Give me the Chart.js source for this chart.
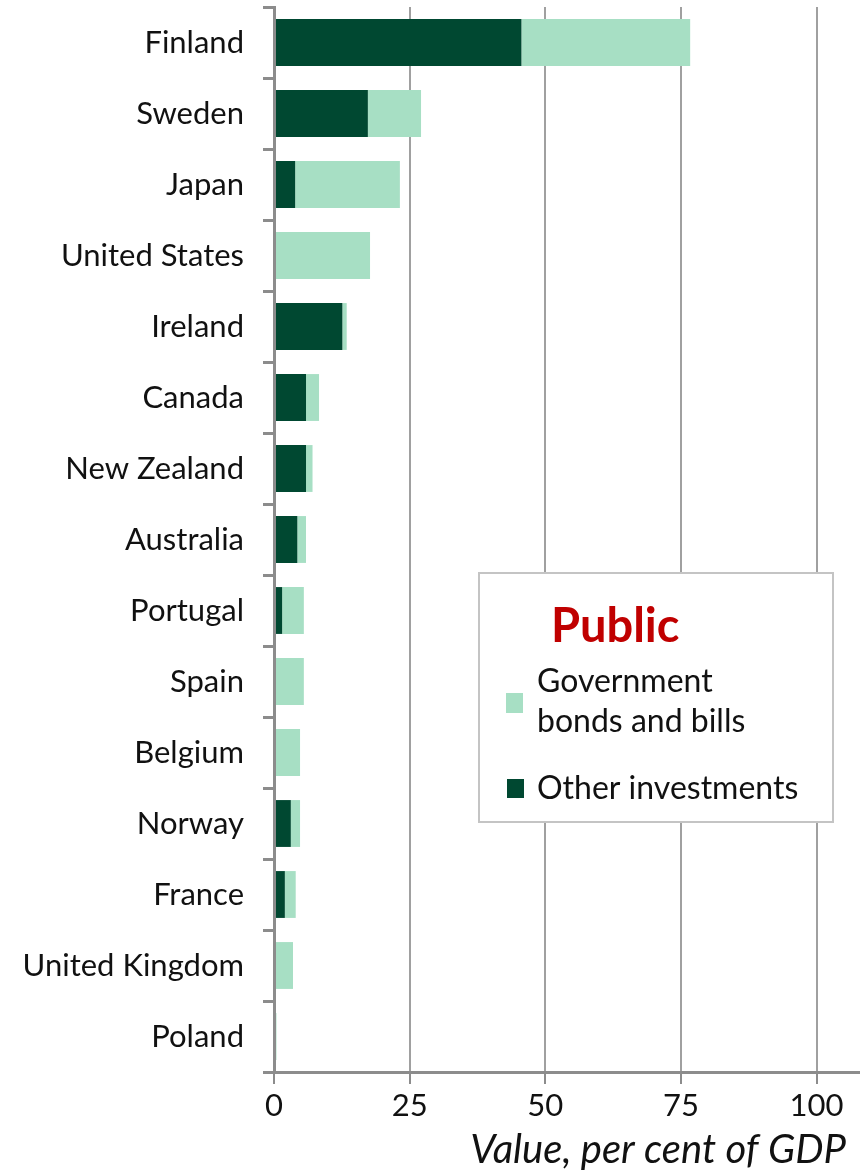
<!DOCTYPE html>
<html>
<head>
<meta charset="utf-8">
<script src="https://cdn.jsdelivr.net/npm/chart.js@4"></script>
<style>
  html, body { margin: 0; padding: 0; background: #fff; }
  #wrap { width: 860px; height: 1173px; position: relative; }
</style>
</head>
<body>
<div id="wrap"><canvas id="chartCanvas"></canvas></div>
<script>
const countries = ['Finland', 'Sweden', 'Japan', 'United States', 'Ireland', 'Canada', 'New Zealand',
  'Australia', 'Portugal', 'Spain', 'Belgium', 'Norway', 'France', 'United Kingdom', 'Poland'];
const otherInvestments = [45.6, 17.3, 3.9, 0, 12.6, 5.9, 5.9, 4.3, 1.5, 0, 0, 3.1, 2.0, 0, 0];
const govBonds = [31.1, 9.8, 19.3, 17.7, 0.8, 2.4, 1.2, 1.6, 4.0, 5.5, 4.8, 1.7, 2.0, 3.5, 0.45];
const xTicks = [0, 25, 50, 75, 100];

const darkGreen = '#004831';
const lightGreen = '#a7dfc4';
const font = 'Lato, "Open Sans", sans-serif';

// legend box + axis title drawn by hand
const extras = {
  id: 'extras',
  afterDraw(c) {
    const ctx = c.ctx;
    ctx.save();
    ctx.fillStyle = '#fff';
    ctx.fillRect(479, 573, 354, 249);
    ctx.strokeStyle = '#c4c4c4';
    ctx.lineWidth = 2;
    ctx.strokeRect(479, 573, 354, 249);

    ctx.fillStyle = '#c00000';
    ctx.font = 'bold 47px ' + font;
    ctx.textBaseline = 'alphabetic';
    ctx.fillText('Public', 551, 642);

    ctx.fillStyle = lightGreen;
    ctx.fillRect(506, 693, 17, 20);
    ctx.fillStyle = darkGreen;
    ctx.fillRect(507, 779, 17, 19);

    ctx.fillStyle = '#111';
    ctx.textBaseline = 'middle';
    ctx.font = '32px ' + font;
    ctx.fillText('Government', 537, 682);
    ctx.fillText('bonds and bills', 537, 722);
    ctx.fillText('Other investments', 537, 789);

    ctx.font = 'italic 40px ' + font;
    ctx.textAlign = 'right';
    ctx.fillText('Value, per cent of GDP', 846, 1150);
    ctx.restore();
  }
};

new Chart(document.getElementById('chartCanvas'), {
  type: 'bar',
  data: {
    labels: countries,
    datasets: [
      { label: 'Other investments', data: otherInvestments, backgroundColor: darkGreen },
      { label: 'Government bonds and bills', data: govBonds, backgroundColor: lightGreen }
    ]
  },
  options: {
    indexAxis: 'y',
    responsive: true,
    maintainAspectRatio: false,
    animation: false,
    layout: { padding: { top: 7, right: 0, left: 0, bottom: 0 } },
    datasets: { bar: { barPercentage: 0.66, categoryPercentage: 1 } },
    plugins: { legend: { display: false }, tooltip: { enabled: false } },
    scales: {
      x: {
        stacked: true,
        min: 0,
        max: 108,
        afterBuildTicks: s => { s.ticks = xTicks.map(v => ({ value: v })); },
        afterFit: s => { s.height = 101; },
        grid: { color: '#a0a0a0', lineWidth: 2, tickLength: 12, tickColor: '#8c8c8c' },
        border: { color: '#8c8c8c', width: 3 },
        ticks: { font: { family: font, size: 31 }, color: '#111', padding: 3, maxRotation: 0 }
      },
      y: {
        stacked: true,
        afterFit: s => { s.width = 274; s.paddingTop = 0; s.paddingBottom = 0; },
        grid: { drawOnChartArea: false, tickLength: 11, color: '#8c8c8c', lineWidth: 3 },
        border: { color: '#8c8c8c', width: 3, z: 1 },
        ticks: { font: { family: font, size: 31 }, color: '#111', padding: 19 }
      }
    }
  },
  plugins: [extras]
});
</script>
</body>
</html>
